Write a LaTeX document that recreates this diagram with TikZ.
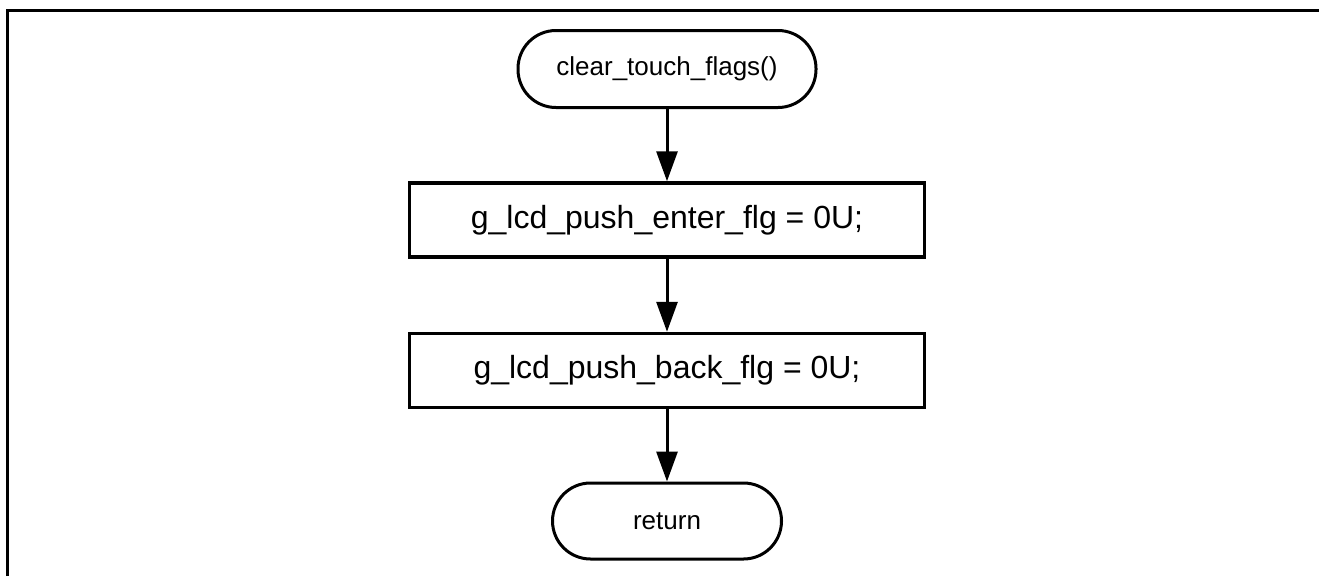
\documentclass[tikz,border=0pt]{standalone}
\usepackage{fontspec}
\setmainfont{Liberation Sans}
\usetikzlibrary{arrows.meta}
\tikzset{
  term/.style={draw, line width=3pt, rounded corners=38pt, minimum width=298pt, minimum height=77pt, inner sep=0pt, font=\fontsize{26}{30}\selectfont},
  proc/.style={draw, line width=3.5pt, minimum width=515pt, minimum height=74pt, inner sep=0pt, font=\fontsize{32}{38}\selectfont},
  flow/.style={line width=3pt, -{Triangle[length=30pt,width=21pt]}},
  frame/.style={line width=3pt}
}
\begin{document}
\begin{tikzpicture}[x=1pt,y=-1pt]
\useasboundingbox (0,0) rectangle (1319,576);
\coordinate (fa) at (7,576);
\coordinate (fb) at (7,10);
\coordinate (fc) at (1319,10);
\draw[frame] (fa) -- (fb) -- (fc);
\node[term] (start) at (667,69) {clear\_touch\_flags()};
\node[proc] (b1) at (667,220) {g\_lcd\_push\_enter\_flg = 0U;};
\node[proc] (b2) at (667,370.5) {g\_lcd\_push\_back\_flg = 0U;};
\node[term, minimum width=229pt, minimum height=76pt] (ret) at (667,521) {return};
\draw[flow] (start) -- (b1);
\draw[flow] (b1) -- (b2);
\draw[flow] (b2) -- (ret);
\end{tikzpicture}
\end{document}
